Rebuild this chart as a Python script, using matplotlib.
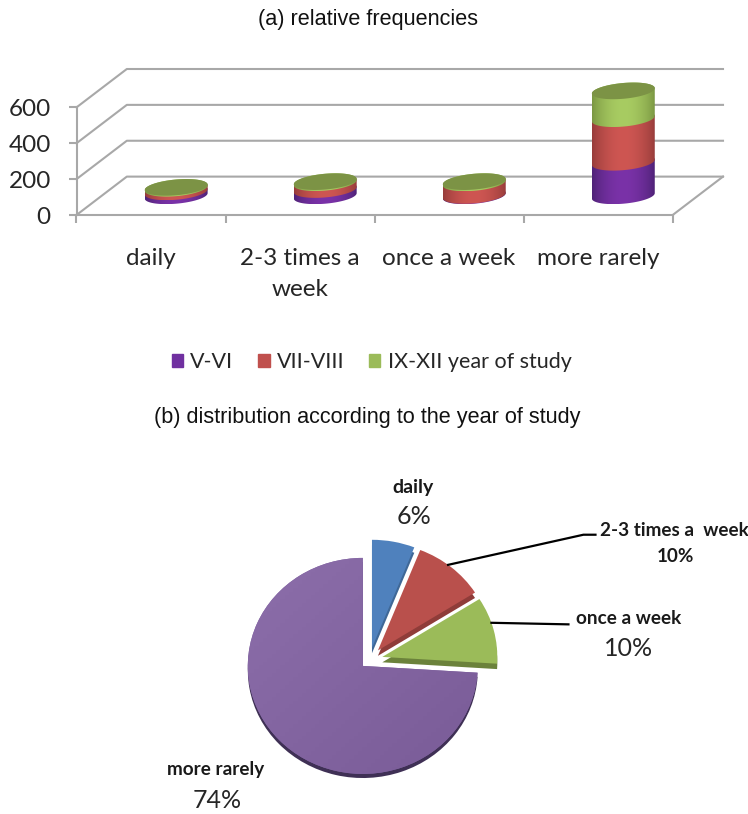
import numpy as np
import matplotlib
matplotlib.use("Agg")
import matplotlib.pyplot as plt
from matplotlib.patches import Patch
from matplotlib.path import Path

# reading frequency by year of study
categories = ["daily", "2-3 times a\nweek", "once a week", "more rarely"]
series_names = ["V-VI", "VII-VIII", "IX-XII year of study"]
year_5_6 = [22, 35, 2, 187]
year_7_8 = [20, 38, 70, 243]
year_9_12 = [5, 6, 7, 155]
y_ticks = [0, 200, 400, 600]

pie_labels = ["daily", "2-3 times a  week", "once a week", "more rarely"]
pie_percent = [6, 10, 10, 74]

W, H = 748, 814
fig = plt.figure(figsize=(W / 100, H / 100), dpi=100)
BODY = "Lato"
TITLE = "Liberation Sans"


def px_text(x, y, s, **kw):
    kw.setdefault("ha", "center")
    kw.setdefault("va", "center")
    return fig.text(x / W, 1 - y / H, s, **kw)


# --- stacked cylinders ---
ax = fig.add_axes([76.5 / W, 1 - 215 / H, (723 - 76.5) / W, 146 / H])
depth_x, depth_y = 0.3376, 214
xlim = (-0.5, 3.5 + depth_x)
ylim = (0, 600 + depth_y)
GRID = "#a8a8a8"

for v in y_ticks:
    ax.plot([-0.5, -0.5 + depth_x, 3.5 + depth_x], [v, v + depth_y, v + depth_y],
            color=GRID, lw=1.5, clip_on=False, zorder=1)
ax.plot([3.5, 3.5 + depth_x], [0, depth_y], color=GRID, lw=1.5, clip_on=False, zorder=1)

for s in ["top", "right"]:
    ax.spines[s].set_visible(False)
for s in ["left", "bottom"]:
    ax.spines[s].set_color(GRID)
    ax.spines[s].set_linewidth(1.5)
ax.spines["left"].set_bounds(0, 600)
ax.spines["bottom"].set_bounds(-0.5, 3.5)
ax.set_yticks(y_ticks)
ax.set_xticks(np.arange(-0.5, 4, 1))
ax.set_xticklabels([])
ax.set_xticks(range(4), minor=True)
ax.set_xticklabels(categories, minor=True, fontsize=17.5, family=BODY, color="#262626",
                   linespacing=1.55)
ax.tick_params(axis="x", which="major", length=5.5, width=1.5, color=GRID)
ax.tick_params(axis="x", which="minor", length=0, pad=24)
ax.tick_params(axis="y", length=5.5, width=1.5, color=GRID, pad=13)
for lab in ax.get_yticklabels():
    lab.set_fontsize(17.5)
    lab.set_family(BODY)
    lab.set_color("#262626")
ax.patch.set_alpha(0)

# edge and centre colours of each cylinder band
side_cols = [((78, 34, 118), (122, 50, 168)),
             ((150, 60, 58), (206, 86, 82)),
             ((122, 150, 66), (168, 204, 98))]
top_col = "#7c9345"
radius_x, radius_y, shear = 0.211, 44, 15


def rim(cx, v, t):
    return (cx + radius_x * np.cos(t),
            v + depth_y / 2 + radius_y * np.sin(t) + shear * np.cos(t))


def shaded(path, cx, lo, hi, cols, z):
    u = np.linspace(0, 1, 128)
    w = np.sin(np.pi * u)[None, :, None] ** 0.8
    e, c = np.array(cols[0]) / 255, np.array(cols[1]) / 255
    img = e + (c - e) * w
    im = ax.imshow(img, extent=[cx - radius_x, cx + radius_x, lo, hi],
                   aspect="auto", zorder=z, interpolation="bilinear", clip_on=True)
    im.set_clip_path(path, transform=ax.transData)


front = np.linspace(np.pi, 2 * np.pi, 60)
back = np.linspace(0, np.pi, 60)
all_t = np.linspace(0, 2 * np.pi, 120)
for i in range(len(categories)):
    base = 0
    for j, vals in enumerate([year_5_6, year_7_8, year_9_12]):
        top = base + vals[i]
        x1, y1 = rim(i + depth_x / 2, base, front)
        x2, y2 = rim(i + depth_x / 2, top, back)
        path = Path(np.column_stack([np.r_[x1, x2], np.r_[y1, y2]]))
        shaded(path, i + depth_x / 2, min(y1.min(), y2.min()), max(y1.max(), y2.max()),
               side_cols[j], 3 + j)
        base = top
    xt, yt = rim(i + depth_x / 2, base, all_t)
    ax.fill(xt, yt, color=top_col, lw=0, zorder=7, clip_on=False)
ax.set_xlim(xlim)
ax.set_ylim(ylim)

legend_cols = ["#7030a0", "#c0504d", "#9bbb59"]
handles = [Patch(color=c, label=n) for c, n in zip(legend_cols, series_names)]
fig.legend(handles=handles, loc="center left", bbox_to_anchor=(172 / W, 1 - 362 / H), ncol=3,
           frameon=False, handlelength=0.52, handleheight=0.52, handletextpad=0.33,
           columnspacing=1.16, borderpad=0, borderaxespad=0,
           prop={"family": BODY, "size": 15.5}, labelcolor="#262626")

px_text(368, 20, "(a) relative frequencies", family=TITLE, fontsize=15.6, color="#111111")
px_text(367, 417, "(b) distribution according to the year of study", family=TITLE,
        fontsize=15.6, color="#111111")

# --- exploded pie ---
cx, cy, rx, ry = 369.5, 660, 115, 108
pie_ax = fig.add_axes([(cx - 1.3 * rx) / W, 1 - (cy + 1.3 * ry) / H, 2.6 * rx / W, 2.6 * ry / H])
explode = [0.115, 0.115, 0.115, 0.08]
face = ["#4f81bd", "#b9504c", "#9bbb59", "#8064a2"]
dark = ["#3f6897", "#8f3c39", "#6b823b", "#3f3055"]
shadow, _ = pie_ax.pie(pie_percent, explode=explode, colors=dark, startangle=90, counterclock=False,
                       radius=1, center=(0, -0.05), wedgeprops={"lw": 0})
# the big slice only shows a thin rim along its lower edge
shadow[3].set_center((shadow[3].center[0], shadow[3].center[1] + 0.012))
wedges, _ = pie_ax.pie(pie_percent, explode=explode, colors=face, startangle=90,
                       counterclock=False, radius=1, center=(0, 0),
                       wedgeprops={"lw": 0})
pie_ax.set_aspect("auto")
pie_ax.set_xlim(-1.3, 1.3)
pie_ax.set_ylim(-1.3, 1.3)
pie_ax.axis("off")

# soft diagonal shading across the big purple slice
ramp = np.linspace(0, 1, 64)[None, :, None] * 0.5 + np.linspace(0, 1, 64)[:, None, None] * 0.5
shade = np.array([142, 112, 172]) / 255 + ramp * (np.array([120, 90, 150]) - np.array([142, 112, 172])) / 255
im = pie_ax.imshow(shade, extent=[-1.3, 1.1, -1.2, 1.1], aspect="auto", zorder=wedges[3].get_zorder() + 0.1)
im.set_clip_path(wedges[3])
pie_ax.set_xlim(-1.3, 1.3)
pie_ax.set_ylim(-1.3, 1.3)


def rim_point(w, frac=0.5, r=1.115):
    # point on the outer edge of an exploded slice, frac measured from its clockwise end
    a = np.deg2rad(w.theta2 + (w.theta1 - w.theta2) * frac)
    return r * np.cos(a), r * np.sin(a)


# leader lines for the two slices labelled away from the pie
sx, sy = rim_point(wedges[1], 0.45)
pie_ax.plot([sx, 1.86, 1.965], [sy, 1.16, 1.16], color="black", lw=1.6, clip_on=False)
sx, sy = rim_point(wedges[2], 0.4)
pie_ax.plot([sx, 1.73], [sy, 0.33], color="black", lw=1.6, clip_on=False)

bold = dict(family=BODY, fontweight="bold", color="#1a1a1a")
light = dict(family=BODY, color="#262626")
px_text(413, 487, pie_labels[0], fontsize=14, **bold)
px_text(414, 517, f"{pie_percent[0]}%", fontsize=18, **light)
px_text(600, 530, pie_labels[1], fontsize=13.6, ha="left", **bold)
px_text(675, 556, f"{pie_percent[1]}%", fontsize=13.6, **bold)
px_text(629, 618, pie_labels[2], fontsize=13.6, **bold)
px_text(629, 648, f"{pie_percent[2]}%", fontsize=18, **light)
px_text(216, 770, pie_labels[3], fontsize=13.6, **bold)
px_text(217, 800, f"{pie_percent[3]}%", fontsize=18, **light)

fig.savefig("out.png", dpi=100)
